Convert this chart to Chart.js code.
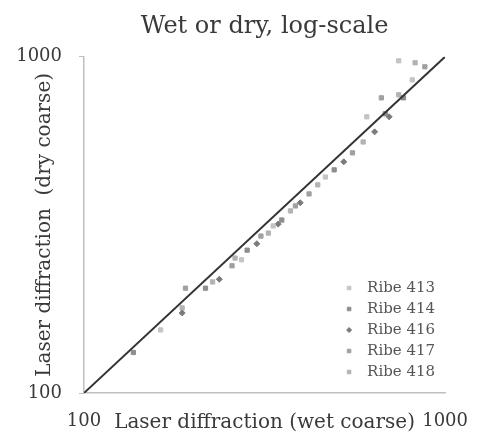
<!DOCTYPE html>
<html>
<head>
<meta charset="utf-8">
<script src="https://cdn.jsdelivr.net/npm/chart.js@4.4.1/dist/chart.umd.min.js"></script>
<style>
  body { margin: 0; background: #fff; }
  canvas { display: block; }
</style>
</head>
<body>
<canvas id="wetDryChart" width="486" height="443"></canvas>
<script>
// Axis ticks (log scale)
const tickValues = [100, 1000];

// Series: wet coarse (x) vs dry coarse (y)
const seriesNames = ['Ribe 413', 'Ribe 414', 'Ribe 416', 'Ribe 417', 'Ribe 418'];
const ribe413X = [163, 273, 334, 466, 607, 811, 744];
const ribe413Y = [154, 249, 314, 439, 663, 854, 973];
const ribe414X = [137, 217, 283, 353, 493, 683, 767];
const ribe414Y = [132, 205, 266, 327, 461, 677, 755];
const ribe416X = [187, 237, 301, 345, 397, 524, 638, 700];
const ribe416Y = [173, 218, 278, 318, 368, 487, 598, 663];
const ribe417X = [191, 257, 309, 385, 420, 554, 666, 879];
const ribe417Y = [205, 239, 293, 360, 391, 518, 755, 934];
const ribe418X = [187, 227, 262, 324, 373, 444, 593, 744, 826];
const ribe418Y = [179, 214, 252, 299, 348, 416, 558, 771, 960];

// 1:1 line
const diagonal = [100, 1000];

const seriesX = [ribe413X, ribe414X, ribe416X, ribe417X, ribe418X];
const seriesY = [ribe413Y, ribe414Y, ribe416Y, ribe417Y, ribe418Y];
const seriesColors = ['#c4c4c4', '#8e8e8e', '#7a7a7a', '#a0a0a0', '#b3b3b3'];
const seriesStyles = ['rect', 'rect', 'rectRot', 'rect', 'rect'];

const serif = '"DejaVu Serif", serif';
const textColor = '#3a3a3a';

const scatterSets = seriesNames.map((name, i) => ({
    type: 'scatter',
    label: name,
    data: seriesX[i].map((x, j) => ({ x: x, y: seriesY[i][j] })),
    backgroundColor: seriesColors[i],
    borderColor: seriesColors[i],
    borderWidth: 1,
    pointStyle: seriesStyles[i],
    pointRadius: 3,
    order: 1
}));

// legend drawn inside the plot, bottom right
const insideLegend = {
    id: 'insideLegend',
    afterDraw(chart) {
        const ctx = chart.ctx;
        const area = chart.chartArea;
        ctx.save();
        ctx.font = '15px ' + serif;
        ctx.textBaseline = 'middle';
        ctx.textAlign = 'left';
        seriesNames.forEach((name, i) => {
            const y = area.bottom - 105 + i * 21;
            ctx.fillStyle = seriesColors[i];
            ctx.strokeStyle = seriesColors[i];
            ctx.lineWidth = 1;
            Chart.helpers.drawPoint(ctx, {
                pointStyle: seriesStyles[i],
                radius: 2.5,
                borderWidth: 1
            }, area.right - 96, y);
            ctx.fillStyle = '#555555';
            ctx.fillText(name, area.right - 78, y);
        });
        ctx.restore();
    }
};

new Chart(document.getElementById('wetDryChart').getContext('2d'), {
    data: {
        datasets: [{
            type: 'line',
            label: '1:1',
            data: diagonal.map(v => ({ x: v, y: v })),
            borderColor: '#333333',
            borderWidth: 2,
            pointRadius: 0,
            fill: false,
            order: 0
        }].concat(scatterSets)
    },
    options: {
        responsive: false,
        animation: false,
        layout: { padding: { left: 0, right: 28, top: 0, bottom: 0 } },
        plugins: {
            legend: { display: false },
            tooltip: { enabled: false },
            title: {
                display: true,
                fullSize: false,
                text: 'Wet or dry, log-scale',
                color: textColor,
                font: { family: serif, size: 24, weight: 'normal', lineHeight: 1.2 },
                padding: { top: 12, bottom: 16 }
            }
        },
        scales: {
            x: {
                type: 'logarithmic',
                position: 'bottom',
                min: 100,
                max: 1000,
                afterBuildTicks: s => { s.ticks = tickValues.map(v => ({ value: v })); },
                afterFit: s => { s.height = 50; },
                ticks: {
                    color: textColor,
                    font: { family: serif, size: 18 },
                    padding: 18,
                    maxRotation: 0,
                    callback: v => String(v)
                },
                grid: { drawOnChartArea: false, drawTicks: false, color: '#bfbfbf' },
                border: { color: '#bfbfbf', width: 1.5 },
                title: {
                    display: true,
                    text: 'Laser diffraction (wet coarse)',
                    color: textColor,
                    font: { family: serif, size: 20, lineHeight: 1.2 },
                    padding: { top: 0, bottom: 8 }
                }
            },
            y: {
                type: 'logarithmic',
                position: 'left',
                min: 100,
                max: 1000,
                afterBuildTicks: s => { s.ticks = tickValues.map(v => ({ value: v })); },
                afterFit: s => { s.width = 84; },
                ticks: {
                    color: textColor,
                    font: { family: serif, size: 18 },
                    padding: 17,
                    callback: v => String(v)
                },
                grid: { drawOnChartArea: false, drawTicks: true, tickLength: 5, color: '#bfbfbf' },
                border: { color: '#bfbfbf', width: 1.5 },
                title: {
                    display: true,
                    text: 'Laser diffraction  (dry coarse)',
                    color: textColor,
                    font: { family: serif, size: 20, lineHeight: 1.2 },
                    padding: { top: 33, bottom: 0 }
                }
            }
        }
    },
    plugins: [insideLegend]
});
</script>
</body>
</html>
